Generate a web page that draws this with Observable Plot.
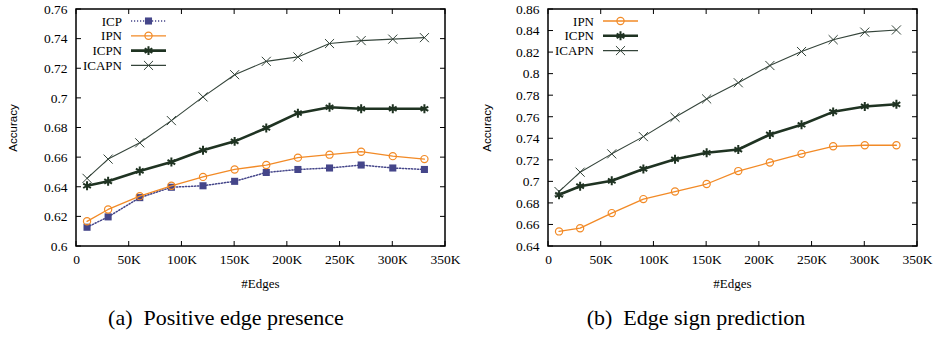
<!DOCTYPE html>
<html><head><meta charset="utf-8">
<script src="https://cdn.jsdelivr.net/npm/d3@7"></script>
<script src="https://cdn.jsdelivr.net/npm/@observablehq/plot@0.6"></script>
<style>
body{margin:0;background:#fff;}
#wrap{width:936px;height:338px;position:relative;}
#charts{display:flex;}
.cap{position:absolute;top:305px;font-size:22px;font-family:"Liberation Serif","Times New Roman",Times,"DejaVu Serif",serif;color:#000;text-align:center;width:468px;}
</style></head>
<body><div id="wrap"><div id="charts"></div>
<div class="cap" style="left:-8px">(a)&nbsp; Positive edge presence</div>
<div class="cap" style="left:462px">(b)&nbsp; Edge sign prediction</div>
</div>
<script>
const SERIF = "'Liberation Serif','Times New Roman',Times,'DejaVu Serif',serif";
const edges = [10000,30000,60000,90000,120000,150000,180000,210000,240000,270000,300000,330000];
// (a) Positive edge presence
const aICP   = [0.613,0.620,0.633,0.640,0.641,0.644,0.650,0.652,0.653,0.655,0.653,0.652];
const aIPN   = [0.617,0.625,0.634,0.641,0.647,0.652,0.655,0.660,0.662,0.664,0.661,0.659];
const aICPN  = [0.641,0.644,0.651,0.657,0.665,0.671,0.680,0.690,0.694,0.693,0.693,0.693];
const aICAPN = [0.646,0.659,0.670,0.685,0.701,0.716,0.725,0.728,0.737,0.739,0.740,0.741];
// (b) Edge sign prediction
const bIPN   = [0.654,0.657,0.671,0.684,0.691,0.698,0.710,0.718,0.726,0.733,0.734,0.734];
const bICPN  = [0.688,0.696,0.701,0.712,0.721,0.727,0.730,0.744,0.753,0.765,0.770,0.772];
const bICAPN = [0.691,0.709,0.726,0.742,0.760,0.777,0.792,0.808,0.821,0.832,0.839,0.841];

const xTicks = [0,50000,100000,150000,200000,250000,300000,350000];
const aYTicks = [0.6,0.62,0.64,0.66,0.68,0.7,0.72,0.74,0.76];
const bYTicks = [0.64,0.66,0.68,0.7,0.72,0.74,0.76,0.78,0.8,0.82,0.84,0.86];

const styles = {
  ICP:   {stroke:"#45468a", width:1.5, dash:"1.2,1.8", symbol:"square", r:4, fill:"#45468a", mstroke:"none"},
  IPN:   {stroke:"#f28a26", width:1.3, dash:null, symbol:"circle", r:3.6, fill:"none", mstroke:"#f28a26"},
  ICPN:  {stroke:"#1f3322", width:2.6, dash:null, symbol:"asterisk", r:4.2, fill:"none", mstroke:"#1f3322"},
  ICAPN: {stroke:"#34443a", width:1.1, dash:null, symbol:"times", r:4.2, fill:"none", mstroke:"#34443a"}
};

function build(series, yTicks, yDomain, margins) {
  const rows = [];
  for (const [name, vals] of series) vals.forEach((v,i)=>rows.push({name, x:edges[i], y:v}));
  const marks = [];
  for (const [name] of series) {
    const s = styles[name];
    const data = rows.filter(d=>d.name===name);
    marks.push(Plot.line(data,{x:"x",y:"y",stroke:s.stroke,strokeWidth:s.width,strokeDasharray:s.dash}));
    marks.push(Plot.dot(data,{x:"x",y:"y",symbol:()=>s.symbol,r:s.r,fill:s.fill,stroke:s.mstroke,
      strokeWidth: s.symbol==="asterisk"?2:(s.symbol==="times"?1:1.2)}));
  }
  marks.push((index, scales, values, dim) => {
    const g = d3.create("svg:g");
    const L = dim.marginLeft, R = dim.width - dim.marginRight, T = dim.marginTop, B = dim.height - dim.marginBottom;
    const t = 5;
    for (const v of xTicks) {
      const px = scales.x(v);
      g.append("line").attr("x1",px).attr("x2",px).attr("y1",B).attr("y2",B-t).attr("stroke","#000");
      g.append("line").attr("x1",px).attr("x2",px).attr("y1",T).attr("y2",T+t).attr("stroke","#000");
    }
    for (const v of yTicks) {
      const py = scales.y(v);
      g.append("line").attr("x1",L).attr("x2",L+t).attr("y1",py).attr("y2",py).attr("stroke","#000");
      g.append("line").attr("x1",R).attr("x2",R-t).attr("y1",py).attr("y2",py).attr("stroke","#000");
    }
    g.append("rect").attr("x",L).attr("y",T).attr("width",R-L).attr("height",B-T)
      .attr("fill","none").attr("stroke","#000").attr("stroke-width",1.5);
    series.forEach(([name], i) => {
      const s = styles[name];
      const y = T + 12 + i*14.8;
      const tx = L + 46;
      g.append("text").attr("x",tx).attr("y",y).attr("text-anchor","end").attr("dy","0.35em")
        .attr("font-family",SERIF).attr("font-size",13).attr("fill","#000").text(name);
      g.append("line").attr("x1",tx+9).attr("x2",tx+44).attr("y1",y).attr("y2",y)
        .attr("stroke",s.stroke).attr("stroke-width",s.width).attr("stroke-dasharray",s.dash);
      const sym = {square:d3.symbolSquare,circle:d3.symbolCircle,asterisk:d3.symbolAsterisk,times:d3.symbolTimes}[s.symbol];
      g.append("path").attr("transform",`translate(${tx+26.5},${y})`)
        .attr("d", d3.symbol(sym, s.r*s.r*Math.PI)())
        .attr("fill",s.fill).attr("stroke",s.mstroke)
        .attr("stroke-width", s.symbol==="asterisk"?2:(s.symbol==="times"?1:1.2));
    });
    return g.node();
  });
  return Plot.plot({
    width: 468, height: 300,
    marginLeft: margins.left, marginRight: margins.right, marginTop: 9, marginBottom: 54,
    style: {fontFamily:SERIF, fontSize:"13.5px", color:"#000", background:"#fff"},
    x: {domain:[0,350000]},
    y: {domain:yDomain},
    marks: [
      Plot.axisX(xTicks,{tickSize:0, tickPadding:8, tickFormat:d=>d===0?"0":(d/1000)+"K", label:null, fontSize:13.5}),
      Plot.axisY(yTicks,{tickSize:0, tickPadding:9, tickFormat:d=>String(+d.toFixed(2)), label:null, fontSize:13.5}),
      ...marks
    ]
  });
}

function addLabels(svg, margins) {
  const s = d3.select(svg);
  const L = margins.left, R = 468 - margins.right;
  s.append("text").attr("x",(L+R)/2).attr("y",283).attr("dy","0.35em").attr("text-anchor","middle")
    .attr("font-family",SERIF).attr("font-size",13).text("#Edges");
  s.append("text").attr("transform",`translate(${margins.yl},128) rotate(-90)`).attr("dy","0.35em").attr("text-anchor","middle")
    .attr("font-family","'Liberation Sans',Arial,sans-serif").attr("font-size",11.5).text("Accuracy");
}

const mA = {left:76, right:23, yl:13};
const mB = {left:80, right:19, yl:19};
const pa = build([["ICP",aICP],["IPN",aIPN],["ICPN",aICPN],["ICAPN",aICAPN]], aYTicks, [0.6,0.76], mA);
const pb = build([["IPN",bIPN],["ICPN",bICPN],["ICAPN",bICAPN]], bYTicks, [0.64,0.86], mB);
addLabels(pa, mA); addLabels(pb, mB);
document.getElementById("charts").append(pa, pb);
</script>
</body></html>
